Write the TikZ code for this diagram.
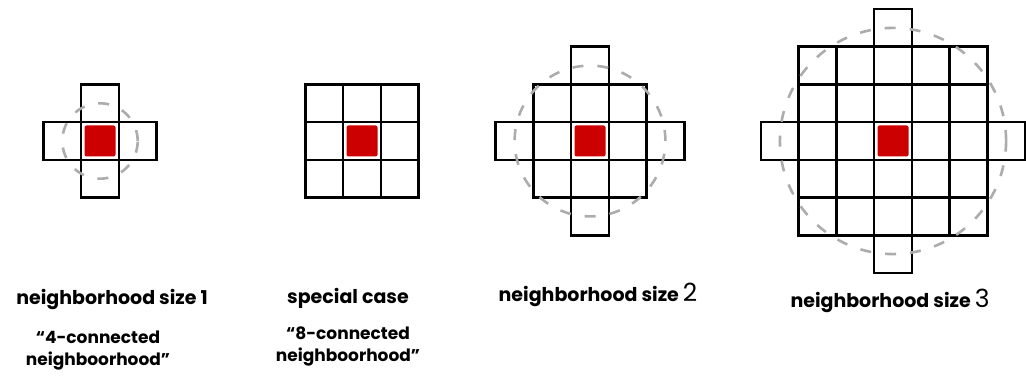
\documentclass[tikz,border=0pt]{standalone}
\usepackage{fontspec}
\setmainfont{Poppins}
\usepackage{tikz}
\usetikzlibrary{positioning}

\begin{document}
\begin{tikzpicture}[x=1pt,y=1pt,
  node distance=6pt,
  cell/.style={draw,line width=2.6pt,minimum size=37.7pt,inner sep=0pt},
  seed/.style={fill=red!80!black,rounded corners=2pt,minimum size=31pt,inner sep=0pt},
  ring/.style={draw=gray!65,line width=2.6pt,dash pattern=on 11pt off 14pt},
  title/.style={align=center,font=\bfseries\fontsize{19}{21}\selectfont,inner sep=0pt},
  note/.style={align=center,font=\bfseries\fontsize{17}{22}\selectfont,inner sep=0pt}]
\useasboundingbox (0,0) rectangle (1026,387);
% disk neighborhoods of size 1, 2, 3
\foreach \cx/\rr/\g in {100/1/a,590/2/c,893/3/d}{
  \foreach \i in {-3,...,3}
    \foreach \j in {-3,...,3}{
      \pgfmathtruncatemacro\dd{\i*\i+\j*\j}
      \ifnum\dd>\numexpr\rr*\rr\relax\else
        \node[cell] (\g\i\j) at (\cx+\i*37.7,246+\j*37.7) {};
      \fi}
  \node[seed] (\g seed) at (\cx,246) {};
  \draw[ring] (\g seed) circle[radius=\rr*37.7];
}
% special case: full 3x3 block
\foreach \i in {-1,0,1}
  \foreach \j in {-1,0,1}
    \node[cell] (b\i\j) at (362+\i*37.7,246+\j*37.7) {};
\node[seed] (bseed) at (362,246) {};
% captions
\node[title] (t1) at (112,87) {neighborhood size 1};
\node[note,below=20pt of t1,xshift=-14pt] (q1) {``4-connected\\neighboorhood''};
\node[title] (t2) at (348,89) {special case};
\node[note,below=18pt of t2] (q2) {``8-connected\\neighboorhood''};
\node[title] (t3) at (598,92) {neighborhood size {\mdseries\fontsize{25}{25}\selectfont 2}};
\node[title] (t4) at (890,86) {neighborhood size {\mdseries\fontsize{25}{25}\selectfont 3}};
\end{tikzpicture}
\end{document}
